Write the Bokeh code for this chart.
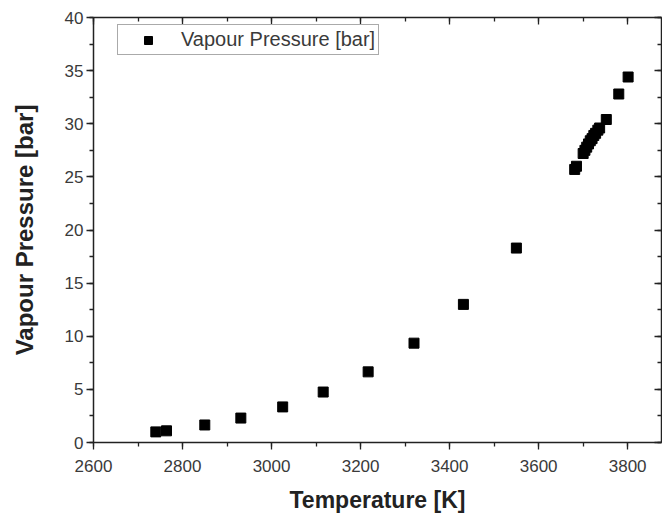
from bokeh.plotting import figure
from bokeh.models import (LinearAxis, SingleIntervalTicker, Range1d, Legend,
                          LegendItem, CustomJSTickFormatter)
from bokeh.embed import file_html
from bokeh.resources import INLINE

temperature_K = [2740, 2764, 2850, 2931, 3025, 3116, 3217, 3320, 3431, 3550,
                 3681, 3685, 3700, 3704, 3708, 3712, 3716, 3720, 3724, 3728,
                 3733, 3737, 3752, 3780, 3801]
pressure_bar = [1.0, 1.1, 1.65, 2.3, 3.35, 4.75, 6.65, 9.35, 13.0, 18.3,
                25.7, 26.0, 27.2, 27.5, 27.8, 28.1, 28.4, 28.6, 28.9, 29.1,
                29.4, 29.6, 30.4, 32.8, 34.4]
series_label = "Vapour Pressure [bar]"
x_title = "Temperature [K]"
y_title = "Vapour Pressure [bar]"

FONT = "Liberation Sans"
AX = "#222222"
LBL = "#3a3a3a"

p = figure(width=662, height=515, output_backend="svg", toolbar_location=None,
           x_range=Range1d(2600, 3876), y_range=Range1d(0, 40),
           min_border_left=93, min_border_right=1, min_border_top=17,
           min_border_bottom=73, x_axis_type=None, y_axis_type=None)
p.outline_line_color = None
p.xgrid.visible = False
p.ygrid.visible = False
p.background_fill_color = "white"
p.border_fill_color = "white"

xt = SingleIntervalTicker(interval=200, num_minor_ticks=2)
yt = SingleIntervalTicker(interval=5, num_minor_ticks=2)

def style(ax, labels):
    ax.axis_line_color = AX
    ax.axis_line_width = 1.5
    ax.major_tick_line_color = AX
    ax.minor_tick_line_color = AX
    ax.major_tick_line_width = 1.3
    ax.minor_tick_line_width = 1.3
    if labels:
        ax.major_tick_out = 7
        ax.major_tick_in = 0
        ax.minor_tick_out = 4
        ax.minor_tick_in = 0
        ax.major_label_text_font = FONT
        ax.major_label_text_font_size = "17px"
        ax.major_label_text_color = LBL
        ax.axis_label_text_font = FONT
        ax.axis_label_text_font_style = "bold"
        ax.axis_label_text_color = AX
    else:
        ax.major_tick_out = 0
        ax.major_tick_in = 7
        ax.minor_tick_out = 0
        ax.minor_tick_in = 4
        ax.formatter = CustomJSTickFormatter(code="return '';")
        ax.major_label_text_font_size = "1px"
        ax.major_label_standoff = 0

xb = LinearAxis(ticker=xt, axis_label=x_title)
style(xb, True)
xb.major_label_standoff = 10
xb.axis_label_standoff = 12
xb.axis_label_text_font_size = "23px"
p.add_layout(xb, "below")

yl = LinearAxis(ticker=yt, axis_label=y_title)
style(yl, True)
yl.major_label_standoff = 3
yl.axis_label_standoff = 24
yl.axis_label_text_font_size = "24px"
p.add_layout(yl, "left")

xa = LinearAxis(ticker=xt)
style(xa, False)
p.add_layout(xa, "above")
yr = LinearAxis(ticker=yt)
style(yr, False)
p.add_layout(yr, "right")

r = p.scatter(temperature_K, pressure_bar, marker="square", size=10,
              fill_color="black", line_color="black")

legend = Legend(items=[LegendItem(label=series_label, renderers=[r])],
                location=(24, 387))
legend.label_text_font = FONT
legend.label_text_font_size = "20px"
legend.label_text_color = LBL
legend.border_line_color = "#555555"
legend.border_line_width = 1
legend.padding = 3
legend.spacing = 0
legend.margin = 0
legend.glyph_width = 54
legend.glyph_height = 20
legend.label_standoff = 6
legend.label_height = 20
legend.background_fill_color = "white"
legend.background_fill_alpha = 1
p.add_layout(legend, "center")

open("out.html", "w").write(file_html(p, INLINE))
